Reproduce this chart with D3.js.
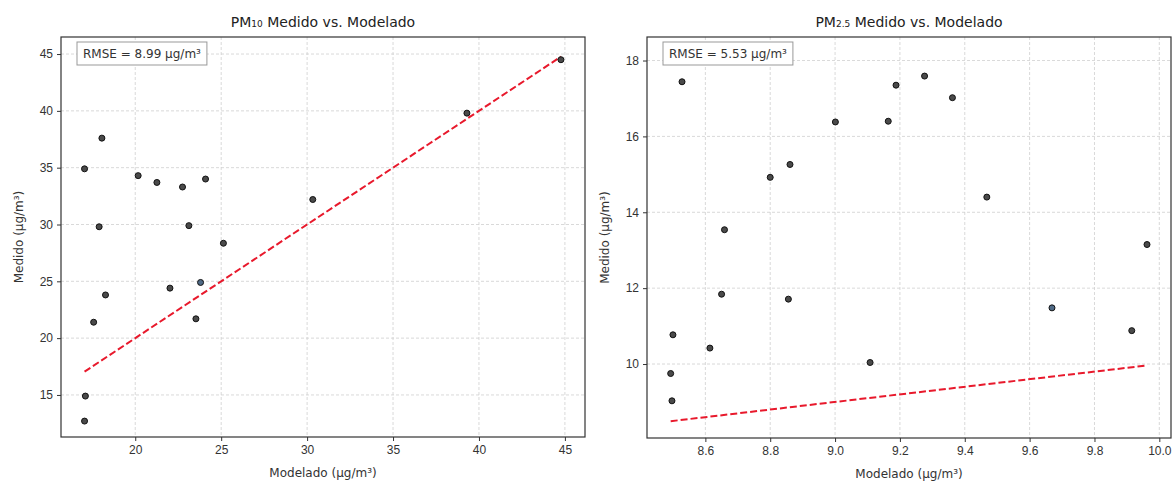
<!DOCTYPE html>
<html>
<head>
<meta charset="utf-8">
<script src="https://cdn.jsdelivr.net/npm/d3@7"></script>
<style>
  body { margin: 0; background: #fff; }
  svg { font-family: "DejaVu Sans", sans-serif; }
</style>
</head>
<body>
<svg id="chart"></svg>
<script>
// PM10 data (modelado, medido)
const pm10Modelado = [17.05, 18.06, 17.9, 18.27, 17.58, 17.1, 17.05, 20.17, 21.26, 22.75, 24.09, 23.12, 25.13, 22.02, 23.8, 23.53, 30.33, 39.3, 44.77];
const pm10Medido   = [34.9, 37.6, 29.8, 23.8, 21.4, 14.9, 12.7, 34.3, 33.7, 33.3, 34.0, 29.9, 28.35, 24.4, 24.9, 21.7, 32.2, 39.8, 44.5];
const pm10Rmse = "8.99";
const pm10XTicks = [20, 25, 30, 35, 40, 45];
const pm10YTicks = [15, 20, 25, 30, 35, 40, 45];

// PM2.5 data
const pm25Modelado = [8.528, 8.50, 8.493, 8.497, 8.614, 8.65, 8.659, 8.80, 8.861, 8.856, 9.001, 9.108, 9.164, 9.188, 9.276, 9.362, 9.468, 9.669, 9.915, 9.962];
const pm25Medido   = [17.44, 10.77, 9.75, 9.03, 10.42, 11.84, 13.54, 14.92, 15.26, 11.71, 16.38, 10.04, 16.40, 17.35, 17.59, 17.02, 14.40, 11.48, 10.88, 13.15];
const pm25Rmse = "5.53";
const pm25XTicks = [8.6, 8.8, 9.0, 9.2, 9.4, 9.6, 9.8, 10.0];
const pm25YTicks = [10, 12, 14, 16, 18];

// points drawn in the bluish tone
const pm10Azul = [14];
const pm25Azul = [17];

const width = 1174, height = 483;
const svg = d3.select("#chart").attr("width", width).attr("height", height);

function drawPanel(opts) {
  const g = svg.append("g");
  const x = d3.scaleLinear().domain(opts.xDomain).range([opts.left, opts.right]);
  const y = d3.scaleLinear().domain(opts.yDomain).range([opts.bottom, opts.top]);

  // grid
  g.append("g").selectAll("line").data(opts.xTicks).enter().append("line")
    .attr("x1", d => x(d)).attr("x2", d => x(d))
    .attr("y1", opts.top).attr("y2", opts.bottom)
    .attr("stroke", "#cfcfcf").attr("stroke-width", 0.8).attr("stroke-dasharray", "3,2");
  g.append("g").selectAll("line").data(opts.yTicks).enter().append("line")
    .attr("y1", d => y(d)).attr("y2", d => y(d))
    .attr("x1", opts.left).attr("x2", opts.right)
    .attr("stroke", "#cfcfcf").attr("stroke-width", 0.8).attr("stroke-dasharray", "3,2");

  // axes
  const xAxis = d3.axisBottom(x).tickValues(opts.xTicks).tickSize(4).tickPadding(4)
    .tickFormat(opts.xFormat);
  const yAxis = d3.axisLeft(y).tickValues(opts.yTicks).tickSize(4).tickPadding(4)
    .tickFormat(d3.format("d"));
  const gx = g.append("g").attr("transform", `translate(0,${opts.bottom})`).call(xAxis);
  const gy = g.append("g").attr("transform", `translate(${opts.left},0)`).call(yAxis);
  [gx, gy].forEach(a => {
    a.select(".domain").remove();
    a.selectAll("line").attr("stroke", "#333");
    a.selectAll("text").attr("fill", "#333").style("font-size", "12px");
  });

  // 1:1 line
  const lo = d3.min(opts.mod), hi = d3.max(opts.mod);
  g.append("line")
    .attr("x1", x(lo)).attr("y1", y(lo)).attr("x2", x(hi)).attr("y2", y(hi))
    .attr("stroke", "#e8192c").attr("stroke-width", 2).attr("stroke-dasharray", "7,3");

  // points
  g.append("g").selectAll("circle").data(opts.mod.map((m, i) => [m, opts.med[i], i])).enter()
    .append("circle")
    .attr("cx", d => x(d[0])).attr("cy", d => y(d[1])).attr("r", 3)
    .attr("fill", d => opts.azul.includes(d[2]) ? "#4f6a86" : "#4a4a4a")
    .attr("stroke", "#111").attr("stroke-width", 1);

  // frame
  g.append("rect")
    .attr("x", opts.left).attr("y", opts.top)
    .attr("width", opts.right - opts.left).attr("height", opts.bottom - opts.top)
    .attr("fill", "none").attr("stroke", "#333").attr("stroke-width", 1.2);

  // RMSE box
  const box = g.append("g").attr("transform", `translate(${opts.left + 16},${opts.top + 5})`);
  const t = box.append("text").attr("x", 6).attr("y", 16)
    .attr("fill", "#333").style("font-size", "12px")
    .text(`RMSE = ${opts.rmse} µg/m³`);
  const bw = t.node().getComputedTextLength() + 12;
  box.insert("rect", "text").attr("width", bw).attr("height", 23)
    .attr("fill", "#fff").attr("stroke", "#999").attr("stroke-width", 1);

  // title
  const cx = (opts.left + opts.right) / 2;
  const title = g.append("text").attr("x", cx).attr("y", 27).attr("text-anchor", "middle")
    .attr("fill", "#222").style("font-size", "14px");
  title.append("tspan").text("PM");
  title.append("tspan").style("font-size", "9px").text(opts.sub);
  title.append("tspan").text(" Medido vs. Modelado");

  // axis labels
  g.append("text").attr("x", cx).attr("y", opts.bottom + 40).attr("text-anchor", "middle")
    .attr("fill", "#333").style("font-size", "12px").text("Modelado (µg/m³)");
  g.append("text")
    .attr("transform", `translate(${opts.left - 38},${(opts.top + opts.bottom) / 2}) rotate(-90)`)
    .attr("text-anchor", "middle").attr("fill", "#333").style("font-size", "12px")
    .text("Medido (µg/m³)");
}

drawPanel({
  left: 61, right: 585, top: 37, bottom: 437,
  xDomain: [15.68, 46.17], yDomain: [11.3, 46.5],
  xTicks: pm10XTicks, yTicks: pm10YTicks, xFormat: d3.format("d"),
  mod: pm10Modelado, med: pm10Medido, rmse: pm10Rmse, azul: pm10Azul, sub: "10"
});

drawPanel({
  left: 647, right: 1171, top: 37, bottom: 438,
  xDomain: [8.42, 10.036], yDomain: [8.05, 18.62],
  xTicks: pm25XTicks, yTicks: pm25YTicks, xFormat: d3.format(".1f"),
  mod: pm25Modelado, med: pm25Medido, rmse: pm25Rmse, azul: pm25Azul, sub: "2.5"
});
</script>
</body>
</html>
